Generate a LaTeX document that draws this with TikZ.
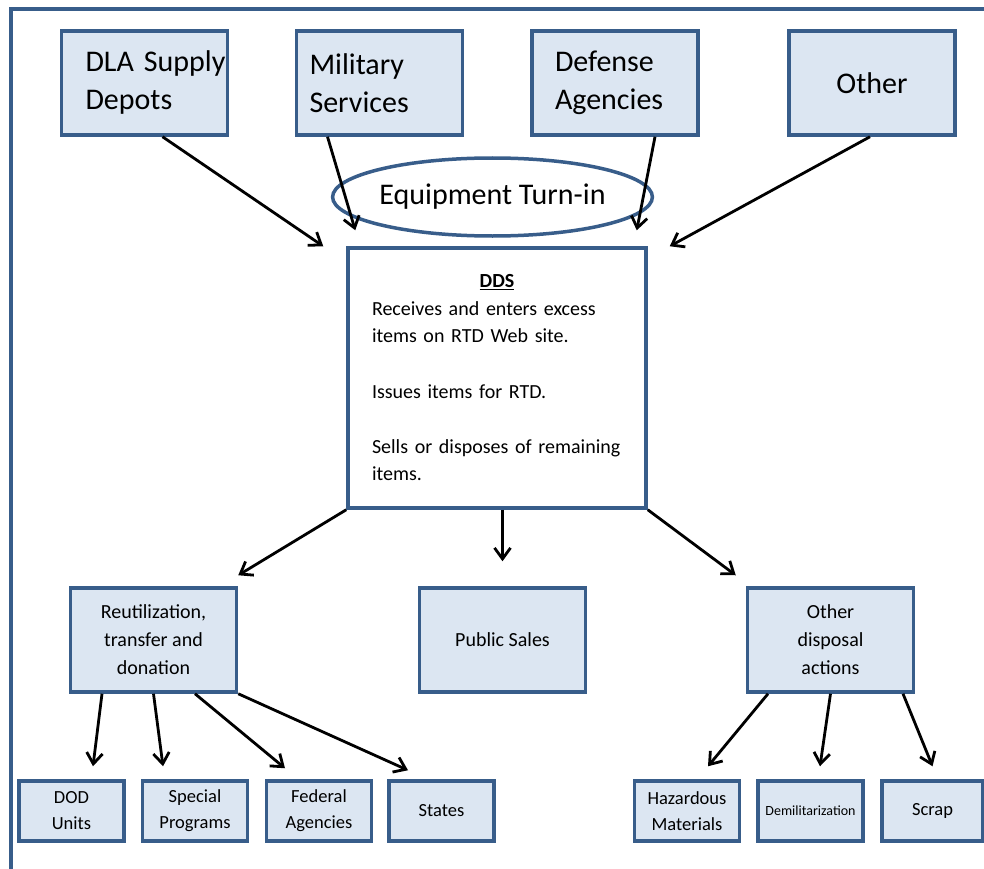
\documentclass[tikz,border=0pt]{standalone}
\usepackage{fontspec}
\setmainfont{Carlito}
\usetikzlibrary{arrows.meta,shapes.geometric}

\definecolor{boxfill}{RGB}{220,230,242}
\definecolor{boxline}{RGB}{56,93,138}

\tikzset{
  frameline/.style={draw=boxline, line width=3.5pt},
  bluebox/.style={draw=boxline, line width=3.5pt, fill=boxfill, rectangle, inner sep=0pt},
  topbox/.style={bluebox, minimum width=166pt, minimum height=104pt,
    font=\fontsize{30}{38}\selectfont, align=left},
  midbox/.style={bluebox, minimum width=166pt, minimum height=104pt,
    font=\fontsize{20}{28}\selectfont, align=center},
  lowbox/.style={bluebox, minimum width=105pt, minimum height=60pt,
    font=\fontsize{18.5}{26}\selectfont, align=center},
  arr/.style={draw=black, line width=2.8pt,
    -{Straight Barb[length=11pt,width=16pt,line width=2.8pt]}},
}

\begin{document}
\begin{tikzpicture}[x=1pt,y=-1pt]
\useasboundingbox (0,0) rectangle (984,869);

% outer frame (open to the right and bottom)
\draw[frameline] (11,869) -- (11,9) -- (984,9);

% sources
\node[topbox, text width=118pt, inner xsep=24pt] (dla) at (144.5,83) {\mbox{DLA Supply}\\Depots};
\node[topbox, text width=140pt, inner xsep=13pt] (mil) at (379.5,83) {Military\\Services};
\node[topbox, text width=120pt, inner xsep=23pt] (def) at (615,83) {Defense\\Agencies};
\node[topbox, align=center] (oth) at (872,83) {Other};

% turn-in label
\node[ellipse, draw=boxline, line width=3.5pt, fill=white, inner sep=0pt,
      minimum width=271pt, minimum height=78pt,
      font=\fontsize{30}{38}\selectfont] (turn) at (492.5,197) {Equipment Turn-in};

% central disposal service box
\node[draw=boxline, line width=3.5pt, fill=white, rectangle, inner ysep=0pt, inner xsep=24pt,
      text width=250pt, minimum height=260pt, align=left,
      font=\fontsize{20}{27}\selectfont] (dds) at (497,378)
  {\makebox[250pt]{\underline{\textbf{DDS}}}\\[1pt]
   Receives and enters excess\\
   items on RTD Web site.\\[29pt]
   Issues items for RTD.\\[28pt]
   Sells or disposes of remaining\\
   items.};

% second tier
\node[midbox] (reut) at (153.5,640) {Reutilization,\\transfer and\\donation};
\node[midbox] (pub)  at (502.5,640) {Public Sales};
\node[midbox] (odis) at (830.5,640) {Other\\disposal\\actions};

% third tier
\node[lowbox] (dod)  at (71.5,811)  {DOD\\Units};
\node[lowbox] (spec) at (195,811)   {Special\\Programs};
\node[lowbox] (fed)  at (319,811)   {Federal\\Agencies};
\node[lowbox] (sta)  at (441.5,811) {States};
\node[lowbox] (haz)  at (687,811)   {Hazardous\\Materials};
\node[lowbox, font=\fontsize{14}{18}\selectfont] (dem) at (810.5,811) {Demilitarization};
\node[lowbox, minimum width=101pt] (scr) at (932.5,811) {Scrap};

% inflows
\draw[arr] ([xshift=18pt]dla.south) -- ([xshift=-23pt]dds.north west);
\draw[arr] ([xshift=-52pt]mil.south) -- ([xshift=9pt,yshift=16pt]dds.north west);
\draw[arr] ([xshift=40pt]def.south) -- ([xshift=-11pt,yshift=16pt]dds.north east);
\draw[arr] ([xshift=-2pt]oth.south) -- ([xshift=22pt]dds.north east);

% outflows
\draw[arr] (dds.south west) -- ([yshift=11pt]reut.north east);
\draw[arr] (dds.south -| pub.north) -- ([yshift=25pt]pub.north);
\draw[arr] (dds.south east) -- ([xshift=-10pt,yshift=11pt]odis.north west);

% reutilization branches
\draw[arr] ([xshift=-51.5pt]reut.south) -- ([xshift=21.5pt,yshift=13pt]dod.north);
\draw[arr] (reut.south) -- ([xshift=-32pt,yshift=13pt]spec.north);
\draw[arr] ([xshift=41.5pt]reut.south) -- ([xshift=-34pt,yshift=11pt]fed.north);
\draw[arr] (reut.south east) -- ([xshift=-33.5pt,yshift=9pt]sta.north);

% other disposal branches
\draw[arr] ([xshift=-62.5pt]odis.south) -- ([xshift=21pt,yshift=13pt]haz.north);
\draw[arr] (odis.south) -- ([xshift=9.5pt,yshift=13pt]dem.north);
\draw[arr] ([xshift=72.5pt]odis.south) -- ([yshift=13pt]scr.north);
\end{tikzpicture}
\end{document}
